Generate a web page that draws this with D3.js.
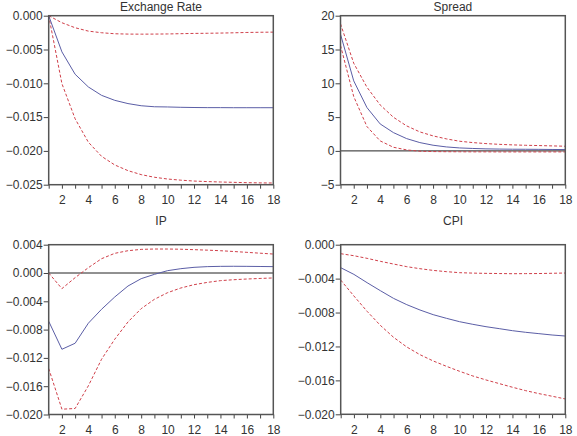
<!DOCTYPE html>
<html>
<head>
<meta charset="utf-8">
<script src="https://cdnjs.cloudflare.com/ajax/libs/d3/7.8.5/d3.min.js"></script>
<style>
  body { margin: 0; background: #fff; }
  text { font-family: "Liberation Sans", Arial, sans-serif; fill: #333; }
</style>
</head>
<body>
<svg id="chart" width="577" height="436"></svg>
<script>
// horizon (periods)
var steps = d3.range(1, 19);

// Exchange Rate response and bands
var exchangeRate = [0, -0.00535, -0.00866, -0.01054, -0.01178, -0.01252, -0.0130, -0.01332, -0.01347, -0.0135, -0.01355, -0.01358, -0.0136, -0.0136, -0.01361, -0.01361, -0.01361, -0.01361];
var exchangeRateHi = [0, -0.00104, -0.00178, -0.00228, -0.00252, -0.00267, -0.00272, -0.00273, -0.00272, -0.0027, -0.00266, -0.00262, -0.0026, -0.00257, -0.00253, -0.00248, -0.00245, -0.00243];
var exchangeRateLo = [0, -0.01005, -0.01525, -0.01871, -0.0208, -0.02208, -0.02292, -0.02351, -0.0239, -0.02416, -0.02433, -0.02446, -0.02454, -0.0246, -0.02465, -0.0247, -0.02473, -0.02475];

// Spread
var spread = [17.26, 10.36, 6.41, 3.99, 2.71, 1.82, 1.23, 0.84, 0.59, 0.44, 0.36, 0.3, 0.27, 0.25, 0.24, 0.23, 0.21, 0.2];
var spreadHi = [18.8, 12.97, 9.42, 6.8, 4.98, 3.7, 2.81, 2.22, 1.78, 1.43, 1.23, 1.08, 0.97, 0.89, 0.83, 0.79, 0.74, 0.69];
var spreadLo = [15.6, 8.04, 3.6, 1.48, 0.54, 0.15, -0.05, -0.1, -0.12, -0.13, -0.14, -0.14, -0.15, -0.15, -0.15, -0.15, -0.15, -0.15];

// IP
var ip = [-0.00682, -0.01078, -0.00993, -0.0071, -0.00513, -0.00339, -0.00184, -0.0008, -0.00019, 0.00033, 0.00061, 0.0008, 0.0009, 0.00094, 0.00095, 0.00094, 0.00092, 0.0009];
var ipHi = [0, -0.00221, -0.00066, 0.00075, 0.00202, 0.00278, 0.00315, 0.00334, 0.00339, 0.00339, 0.00336, 0.0033, 0.00323, 0.00315, 0.00304, 0.00292, 0.0028, 0.00268];
var ipLo = [-0.0135, -0.01925, -0.01915, -0.01595, -0.01219, -0.00936, -0.00692, -0.00504, -0.00372, -0.00278, -0.00212, -0.00165, -0.00133, -0.00108, -0.00095, -0.00085, -0.00077, -0.0007];

// CPI
var cpi = [-0.00271, -0.0035, -0.00448, -0.00542, -0.00633, -0.00707, -0.0077, -0.00825, -0.00868, -0.00908, -0.00939, -0.00967, -0.0099, -0.01014, -0.01033, -0.01049, -0.01065, -0.01077];
var cpiHi = [-0.00106, -0.0013, -0.00161, -0.00196, -0.00228, -0.00259, -0.00283, -0.00303, -0.00318, -0.0033, -0.00335, -0.00338, -0.0034, -0.00342, -0.00341, -0.0034, -0.00337, -0.00334];
var cpiLo = [-0.00417, -0.00605, -0.00786, -0.00951, -0.01092, -0.01206, -0.01297, -0.01371, -0.01434, -0.01493, -0.01548, -0.01595, -0.01638, -0.01681, -0.01721, -0.01756, -0.01787, -0.01819];

// titles and y ticks
var titles = ["Exchange Rate", "Spread", "IP", "CPI"];
var yTicksER = [0, -0.005, -0.010, -0.015, -0.020, -0.025];
var yTicksSpread = [20, 15, 10, 5, 0, -5];
var yTicksIP = [0.004, 0, -0.004, -0.008, -0.012, -0.016, -0.020];
var yTicksCPI = [0, -0.004, -0.008, -0.012, -0.016, -0.020];
var xLabels = [2, 4, 6, 8, 10, 12, 14, 16, 18];

var panels = [
  {title: titles[0], mid: exchangeRate, hi: exchangeRateHi, lo: exchangeRateLo, ticks: yTicksER, fmt: ".3f",
   box: {l: 48.7, r: 273.3, t: 15.7, b: 184.7}, titleY: 11},
  {title: titles[1], mid: spread, hi: spreadHi, lo: spreadLo, ticks: yTicksSpread, fmt: "d",
   box: {l: 340.5, r: 565.3, t: 15.7, b: 184.7}, titleY: 11},
  {title: titles[2], mid: ip, hi: ipHi, lo: ipLo, ticks: yTicksIP, fmt: ".3f",
   box: {l: 48.7, r: 273.3, t: 244.7, b: 414.5}, titleY: 225},
  {title: titles[3], mid: cpi, hi: cpiHi, lo: cpiLo, ticks: yTicksCPI, fmt: ".3f",
   box: {l: 340.7, r: 565.3, t: 244.7, b: 414.3}, titleY: 225}
];

var svg = d3.select("#chart");

panels.forEach(function(p) {
  var b = p.box;
  var x = d3.scaleLinear().domain([1, 18]).range([b.l, b.r]);
  var y = d3.scaleLinear().domain(d3.extent(p.ticks)).range([b.b, b.t]);
  var g = svg.append("g");

  // x axis: tick every period, label the even ones
  var xAxis = g.append("g")
    .attr("transform", `translate(0,${b.b})`)
    .call(d3.axisBottom(x).tickValues(steps).tickSize(4).tickSizeOuter(0)
      .tickFormat(d => xLabels.indexOf(d) >= 0 ? d : ""));
  xAxis.select(".domain").remove();
  xAxis.selectAll("line").attr("stroke", "#444");
  xAxis.selectAll("text").attr("dy", "1.05em").style("font-size", "12px").attr("fill", "#333");

  var yAxis = g.append("g")
    .attr("transform", `translate(${b.l},0)`)
    .call(d3.axisLeft(y).tickValues(p.ticks).tickSize(5).tickSizeOuter(0)
      .tickFormat(d3.format(p.fmt)));
  yAxis.select(".domain").remove();
  yAxis.selectAll("line").attr("stroke", "#444");
  yAxis.selectAll("text").attr("x", -6).style("font-size", "12px").attr("fill", "#333");

  // zero line
  var yd = y.domain();
  if (yd[0] < 0 && yd[1] > 0) {
    g.append("line")
      .attr("x1", b.l).attr("x2", b.r)
      .attr("y1", y(0)).attr("y2", y(0))
      .attr("stroke", "#222").attr("stroke-width", 1);
  }

  var line = d3.line().x((d, i) => x(steps[i])).y(d => y(d));

  [p.hi, p.lo].forEach(function(s) {
    g.append("path").datum(s)
      .attr("d", line)
      .attr("fill", "none")
      .attr("stroke", "#d0404a")
      .attr("stroke-width", 1)
      .attr("stroke-dasharray", "3,2");
  });

  g.append("path").datum(p.mid)
    .attr("d", line)
    .attr("fill", "none")
    .attr("stroke", "#5b5ea6")
    .attr("stroke-width", 1);

  // frame
  g.append("rect")
    .attr("x", b.l).attr("y", b.t)
    .attr("width", b.r - b.l).attr("height", b.b - b.t)
    .attr("fill", "none")
    .attr("stroke", "#555")
    .attr("stroke-width", 1.5);

  g.append("text")
    .attr("x", (b.l + b.r) / 2)
    .attr("y", p.titleY)
    .attr("text-anchor", "middle")
    .style("font-size", "12px")
    .text(p.title);
});
</script>
</body>
</html>
